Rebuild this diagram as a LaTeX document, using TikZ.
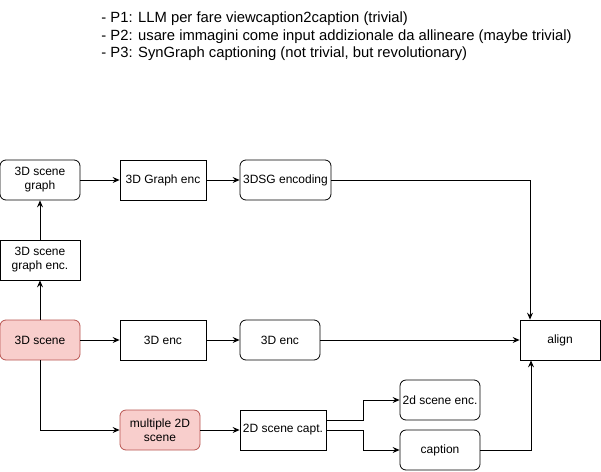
\documentclass[tikz,border=0pt]{standalone}
\usepackage{fontspec}
\setmainfont{Liberation Sans}
\usetikzlibrary{arrows.meta}
\definecolor{pinkfill}{HTML}{F8CECC}
\definecolor{pinkline}{HTML}{B85450}

\begin{document}
\begin{tikzpicture}[x=1pt, y=-1pt, line width=0.8pt,
    >={Stealth[length=7pt,width=6pt,inset=2.5pt]},
    box/.style={draw, minimum height=40pt, inner sep=1pt, align=center,
      font=\fontsize{12}{14}\selectfont},
    rbox/.style={box, rounded corners=6pt},
    pinkbox/.style={rbox, fill=pinkfill, draw=pinkline}]
    \useasboundingbox (0, 0) rectangle (601, 471);
    \node[anchor=north west, align=left, inner sep=0pt,
      font=\fontsize{14.8}{17.5}\selectfont] (0) at (101, 11.5)
      {- P1: LLM per fare viewcaption2caption (trivial)\\
       - P2: usare immagini come input addizionale da allineare (maybe trivial)\\
       - P3: SynGraph captioning (not trivial, but revolutionary)};
    \node[rbox, minimum width=80pt] (1) at (40, 180) {3D scene\\graph};
    \node[box, minimum width=86pt] (2) at (163, 180) {3D Graph enc};
    \node[rbox, minimum width=91pt] (3) at (285.5, 180) {3DSG encoding};
    \node[box, minimum width=80pt] (4) at (40, 260) {3D scene\\graph enc.};
    \node[pinkbox, minimum width=80pt] (5) at (40, 340) {3D scene};
    \node[box, minimum width=86pt] (6) at (163, 340) {3D enc};
    \node[rbox, minimum width=80pt] (7) at (280, 340) {3D enc};
    \node[box, minimum width=80pt] (8) at (560, 340) {align};
    \node[pinkbox, minimum width=80pt] (9) at (160, 430) {multiple 2D\\scene};
    \node[box, minimum width=86pt] (10) at (283, 430) {2D scene capt.};
    \node[rbox, minimum width=80pt] (11) at (440, 400) {2d scene enc.};
    \node[rbox, minimum width=80pt] (12) at (440, 450) {caption};
    \draw [->] (1) to (2);
    \draw [->] (2) to (3);
    \draw [->] (4) to (1);
    \draw [->] (5) to (4);
    \draw [->] (5) to (6);
    \draw [->] (6) to (7);
    \draw [->] (7) to (8);
    \draw [->] (5) |- (9);
    \draw [->] (9) to (10);
    \draw [->] (3) -| ([xshift=-30pt]8.north);
    \draw [->] (12) -| ([xshift=-29pt]8.south);
    \draw [->] ([yshift=10pt]10.east) -- ++(37, 0) |- (11);
    \draw [->] (10.east) -- ++(37, 0) |- (12);
  \end{tikzpicture}
\end{document}
